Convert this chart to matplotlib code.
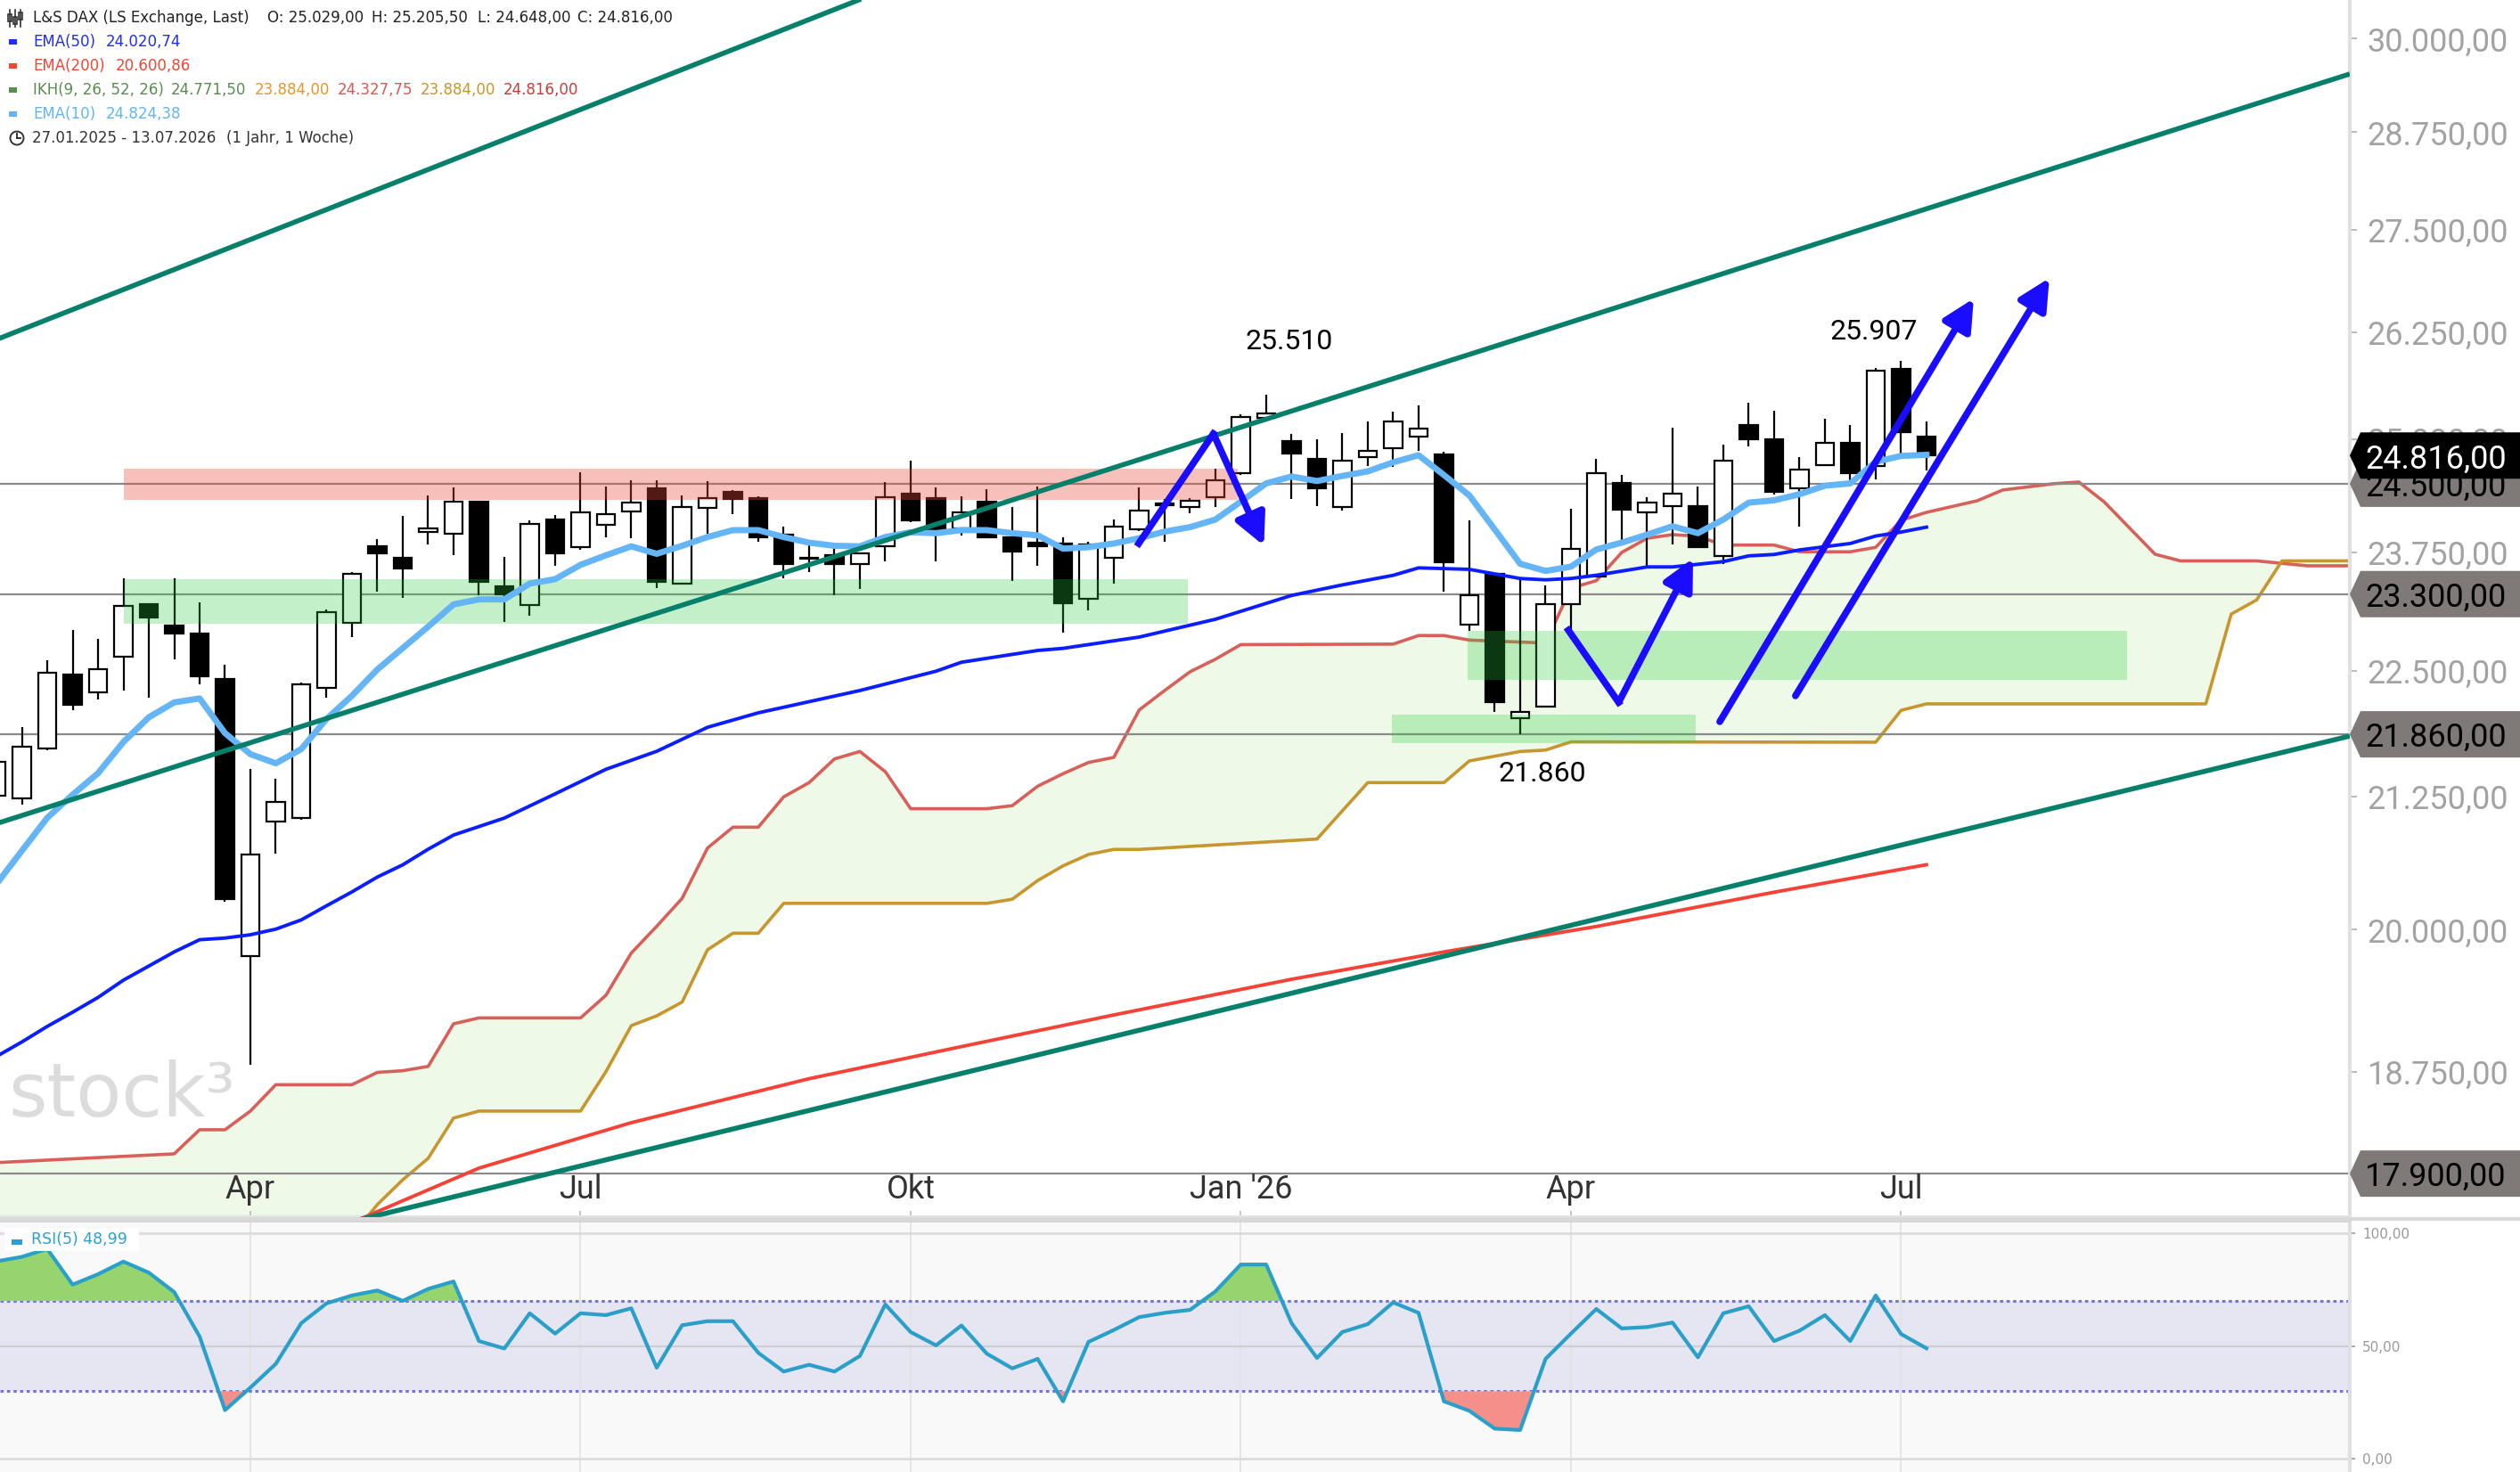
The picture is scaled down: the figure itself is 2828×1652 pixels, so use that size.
import matplotlib
matplotlib.use("Agg")
import matplotlib.pyplot as plt
import numpy as np
import pandas as pd
from matplotlib.lines import Line2D
from matplotlib.patches import Circle, Rectangle, Polygon
from matplotlib.ticker import FixedLocator, NullLocator, FuncFormatter
from matplotlib.transforms import blended_transform_factory, IdentityTransform

plt.rcParams["font.family"] = ["DejaVu Sans"]

W, H = 2828, 1652

# weekly candles 27.01.2025 - 13.07.2026
dates = pd.date_range("2025-01-27", "2026-07-13", freq="7D")

opens = [21260, 21233, 21720, 22464, 22282, 22650, 23194, 22970, 22890, 22422,
         19765, 21010, 21043, 22330, 22999, 23810, 23691, 23965, 23952, 24301,
         23383, 23184, 24106, 23801, 24050, 24196, 24452, 23411, 24235, 24409,
         24343, 23939, 23690, 23720, 23621, 23817, 24390, 24343, 24004, 24301,
         23907, 23852, 23843, 23250, 23689, 23997, 24262, 24238, 24353, 24618,
         25240, 24980, 24777, 24238, 24794, 24895, 25031, 24827, 22981, 23513,
         22022, 22140, 23194, 23490, 24504, 24183, 24255, 24255, 23705, 25160,
         24997, 24447, 24705, 24963, 24701, 25812, 25029]
highs = [21700, 21932, 22609, 22923, 22830, 23468, 23200, 23468, 23213, 22559,
         21515, 21424, 22380, 23142, 23535, 23895, 24141, 24372, 24459, 24311,
         23695, 24093, 24158, 24629, 24469, 24539, 24539, 24374, 24527, 24426,
         24363, 24025, 23843, 23795, 23750, 24514, 24761, 24459, 24363, 24439,
         24245, 24466, 23907, 23860, 24103, 24459, 24331, 24343, 24665, 25283,
         25510, 25057, 25003, 25071, 25209, 25315, 25385, 24860, 24093, 23520,
         23475, 23390, 24222, 24777, 24597, 24353, 25136, 24466, 24936, 25423,
         25329, 24794, 25235, 25160, 25820, 25907, 25205.5]
lows = [21200, 21172, 21700, 22102, 22210, 22300, 22228, 22620, 22364, 20258,
        18810, 20707, 21026, 22230, 22850, 23329, 23260, 23830, 23715, 23286,
        23004, 23073, 23602, 23778, 23912, 23897, 23364, 23400, 23946, 24160,
        23865, 23472, 23532, 23286, 23357, 23650, 24077, 23650, 23932, 23900,
        23443, 23602, 22896, 23128, 23411, 23978, 23865, 24173, 24238, 24600,
        25220, 24331, 24252, 24206, 24701, 24685, 24868, 23327, 22911, 22081,
        21860, 22126, 22833, 23480, 23875, 23602, 23836, 23790, 23624, 24922,
        24380, 24028, 24700, 24530, 24547, 24827, 24648]
closes = [21590, 21736, 22482, 22156, 22518, 23175, 23058, 22886, 22446, 20282,
          20698, 21202, 22361, 23110, 23512, 23737, 23573, 24004, 24301, 23427,
          23295, 24054, 23734, 24183, 24166, 24288, 23427, 24245, 24343, 24333,
          23912, 23618, 23676, 23618, 23740, 24353, 24096, 23987, 24183, 23912,
          23752, 23817, 23200, 23837, 24022, 24200, 24278, 24309, 24537, 25256,
          25294, 24837, 24447, 24754, 24871, 25205, 25122, 23640, 23286, 22187,
          22081, 23194, 23787, 24618, 24210, 24288, 24390, 23801, 24761, 24997,
          24412, 24654, 24963, 24618, 25794, 25078, 24816]

ema10 = [20420, 20732, 21045, 21268, 21477, 21784, 22030, 22180, 22220, 21872,
         21664, 21574, 21713, 22014, 22247, 22515, 22735, 22958, 23191, 23244,
         23244, 23412, 23459, 23612, 23715, 23812, 23731, 23818, 23913, 23988,
         23988, 23913, 23852, 23818, 23812, 23913, 23965, 23955, 23988, 23988,
         23955, 23932, 23787, 23803, 23843, 23900, 23972, 24021, 24104, 24301,
         24504, 24581, 24530, 24587, 24638, 24740, 24820, 24597, 24370, 23995,
         23624, 23547, 23593, 23778, 23852, 23939, 24030, 23955, 24104, 24290,
         24316, 24383, 24478, 24504, 24745, 24812, 24824]

ema50_x = [0, 1, 2, 3, 4, 5, 6, 7, 8, 9, 10, 11, 12, 13, 14, 15, 16, 17, 18, 20,
           22, 24, 26, 28, 30, 34, 37, 38, 41, 42, 45, 48, 51, 53, 55, 56, 58, 60,
           61, 62, 63, 65, 66, 68, 69, 70, 71, 73, 74, 75, 76]
ema50 = [18880, 19005, 19140, 19264, 19394, 19547, 19673, 19800, 19910, 19925,
         19955, 20006, 20090, 20220, 20348, 20486, 20600, 20747, 20881, 21043,
         21276, 21515, 21692, 21930, 22075, 22300, 22497, 22589, 22710, 22732,
         22849, 23035, 23286, 23398, 23500, 23580, 23564, 23466, 23452, 23466,
         23501, 23590, 23590, 23647, 23709, 23724, 23773, 23843, 23924, 23967,
         24021]

ema200_x = [13, 19, 25, 32, 38, 44, 51, 57, 63, 70, 76]
ema200 = [17420, 17945, 18320, 18690, 18965, 19240, 19555, 19800, 20030, 20345, 20601]

span_a_x = [0, 7, 8, 9, 10, 11, 14, 15, 16, 17, 18, 19, 23, 24, 25, 26, 27, 28, 29,
            30, 31, 32, 33, 34, 35, 36, 39, 40, 41, 42, 43, 44, 45, 46, 47, 48, 49,
            55, 56, 57, 58, 61, 62, 63, 64, 65, 66, 67, 68, 70, 71, 73, 74, 75, 76,
            78, 79, 81, 82, 83, 85, 86, 89, 91, 93]
span_a = [17990, 18062, 18261, 18261, 18417, 18639, 18639, 18744, 18758, 18795,
          19163, 19214, 19214, 19413, 19790, 20032, 20288, 20758, 20956, 20956,
          21247, 21385, 21617, 21690, 21492, 21133, 21133, 21162, 21350, 21472,
          21582, 21632, 22104, 22300, 22491, 22620, 22771, 22776, 22865, 22865,
          22818, 22787, 23364, 23443, 23746, 23900, 23939, 23922, 23826, 23826,
          23753, 23753, 23801, 24096, 24183, 24311, 24430, 24500, 24519, 24298,
          23727, 23655, 23655, 23602, 23602]

span_b_x = [0, 14, 15, 16, 17, 18, 19, 23, 24, 25, 26, 27, 28, 29, 30, 31, 39, 40,
            41, 42, 43, 44, 45, 52, 54, 57, 58, 60, 61, 62, 74, 75, 76, 87, 88,
            89, 90, 93]
span_b = [17000, 17400, 17650, 17850, 18025, 18358, 18417, 18417, 18750, 19147,
          19232, 19353, 19819, 19969, 19969, 20242, 20242, 20280, 20453, 20590,
          20697, 20745, 20745, 20843, 21385, 21385, 21597, 21690, 21704, 21785,
          21782, 22100, 22165, 22165, 23089, 23238, 23655, 23655]

rsi = [87.5, 89.5, 93.0, 77.2, 81.8, 87.4, 82.5, 73.9, 54.2, 21.6,
       31.6, 42.1, 60.1, 68.9, 72.4, 74.6, 70.0, 75.3, 78.6, 52.2,
       48.9, 64.5, 55.5, 64.5, 63.7, 66.7, 40.4, 59.2, 61.0, 61.0,
       47.0, 38.7, 41.7, 38.7, 45.6, 68.4, 56.2, 50.3, 59.1, 46.6,
       40.1, 44.3, 25.5, 51.8, 57.1, 62.8, 64.7, 66.0, 74.2, 86.1,
       86.1, 60.1, 44.7, 56.2, 59.7, 69.3, 64.7, 25.5, 21.3, 13.4,
       12.8, 44.3, 55.5, 66.4, 57.8, 58.4, 60.4, 45.0, 64.5, 67.6,
       52.2, 56.8, 63.7, 52.2, 72.4, 55.3, 48.99]

# drawn trendlines / channel (week index, price)
trend_top = ([0, 35], [26161, 30677])
trend_mid = ([0, 92.67], [20990, 29521])
trend_low = ([13, 92.67], [17465, 21843])

# marked zones: (x0, x1, price_lo, price_hi)
zone_red = (5.02, 48.88, 24318, 24672)
zones_green = [(5.03, 46.92, 22989, 23456),
               (57.94, 83.9, 22413, 22911),
               (54.94, 66.9, 21773, 22060)]

# blue drawn arrows
arrow_paths = [([44.98, 47.92, 49.91], [23843, 25064, 23820]),
               ([61.9, 63.88, 66.81], [22920, 22180, 23682]),
               ([67.86, 77.86], [21986, 26654]),
               ([70.84, 80.84], [22246, 26904])]

level_lines = [24500, 23300, 21860, 17900]
# drawn in this order, last one on top
price_tags = [(17900, "#7f7977", "black"), (21860, "#7f7977", "black"),
              (23300, "#7f7977", "black"), (24500, "#7f7977", "black"),
              (24816, "#000000", "white")]
y_ticks = [18750, 20000, 21250, 22500, 23750, 25000, 26250, 27500, 28750, 30000]

BLUE = "#1a0dff"
TEAL = "#06806a"


def de_fmt(v, nd=2):
    s = f"{v:,.{nd}f}"
    return s.replace(",", "X").replace(".", ",").replace("X", ".")


x = np.arange(len(dates))
o, hi, lo, c = map(np.asarray, (opens, highs, lows, closes))

# month markers for the quarter starts
names = {1: "Jan", 4: "Apr", 7: "Jul", 10: "Okt"}
month_pos, month_lbl = [], []
for i in range(1, len(dates)):
    m = dates[i].month
    if m != dates[i - 1].month and m in names:
        month_pos.append(i)
        month_lbl.append(f"Jan '{dates[i]:%y}" if m == 1 else names[m])

fig = plt.figure(figsize=(W / 100, H / 100), dpi=100)
ax = fig.add_axes([0, 1 - 1366 / H, 2637 / W, 1366 / H])
ax2 = fig.add_axes([0, 0, 2637 / W, 282 / H], sharex=ax)

ax.set_yscale("log")
ax.set_ylim(17549, 30531)
ax.set_xlim(0.14, 92.67)

# ichimoku cloud
ax.fill(np.r_[span_a_x, span_b_x[::-1]], np.r_[span_a, span_b[::-1]],
        color="#eef9e8", lw=0, zorder=1)
ax.plot(span_a_x, span_a, color="#d8605a", lw=2.6, zorder=2)
ax.plot(span_b_x, span_b, color="#c8962e", lw=2.6, zorder=2)

for lv in level_lines:
    ax.axhline(lv, color="#8a8a8a", lw=1.6, zorder=2)

# candles
up = c > o
body_lo = np.minimum(o, c)
body_hi = np.maximum(o, c)
ax.vlines(x, lo, hi, color="black", lw=1.6, zorder=3)
ax.bar(x[up], (body_hi - body_lo)[up], bottom=body_lo[up], width=0.72,
       facecolor="white", edgecolor="black", lw=1.6, zorder=4)
ax.bar(x[~up], (body_hi - body_lo)[~up], bottom=body_lo[~up], width=0.72,
       facecolor="black", edgecolor="black", lw=1.6, zorder=4)

# zones on top of candles
x0, x1, p0, p1 = zone_red
ax.fill_between([x0, x1], p0, p1, color="#e94b3c", alpha=0.35, lw=0, zorder=5)
for x0, x1, p0, p1 in zones_green:
    ax.fill_between([x0, x1], p0, p1, color="#2ecc40", alpha=0.28, lw=0, zorder=5)

# moving averages
ax.plot(ema200_x, ema200, color="#f44336", lw=2.8, zorder=6)
ax.plot(ema50_x, ema50, color="#0a1eff", lw=2.8, zorder=6)
ax.plot(x, ema10, color="#64b5f6", lw=5, zorder=6, solid_joinstyle="round")

for xs, ys in (trend_top, trend_mid, trend_low):
    ax.plot(xs, ys, color=TEAL, lw=4, zorder=6, solid_capstyle="butt")

for xs, ys in arrow_paths:
    if len(xs) > 2:
        ax.plot(xs[:-1], ys[:-1], color=BLUE, lw=5.5, zorder=7, solid_joinstyle="miter")
    ax.annotate("", xy=(xs[-1], ys[-1]), xytext=(xs[-2], ys[-2]),
                arrowprops=dict(arrowstyle="-|>,head_length=0.7,head_width=0.35",
                                color=BLUE, lw=5.5, mutation_scale=30,
                                shrinkA=0, shrinkB=0), zorder=7)

for label, xv, yv in (("25.510", 50.9, 26130), ("25.907", 73.93, 26247),
                      ("21.860", 60.88, 21466)):
    ax.text(xv, yv, label, fontsize=23, family="Roboto", color="black",
            ha="center", va="center", zorder=8)

ax.text(9 / 2637, 113 / 1366, "stock³", transform=ax.transAxes, fontsize=60,
        color="#dcdcdc", ha="left", va="baseline", zorder=0.5)

# axes styling (price)
for side in ("top", "left"):
    ax.spines[side].set_visible(False)
ax.spines["bottom"].set_color("#e4e4e4")
ax.spines["bottom"].set_linewidth(3)
ax.spines["right"].set_color("#e0e0e0")
ax.spines["right"].set_linewidth(3)
ax.yaxis.set_major_locator(FixedLocator(y_ticks))
ax.yaxis.set_minor_locator(NullLocator())
ax.yaxis.set_major_formatter(FuncFormatter(lambda v, p: de_fmt(v)))
ax.yaxis.tick_right()
ax.tick_params(axis="y", which="both", length=6, width=1.5, color="#bbbbbb",
               labelcolor="#a3a3a3", labelsize=26, pad=8, labelfontfamily="Roboto")
ax.set_xticks(month_pos)
ax.tick_params(axis="x", direction="in", length=5, width=1.2, color="#bbbbbb",
               labelbottom=False)

tr = blended_transform_factory(ax.transData, ax.transAxes)
for pos, lbl in zip(month_pos, month_lbl):
    ax.text(pos, 31 / 1366, lbl, transform=tr, fontsize=26, family="Roboto",
            color="#333333", ha="center", va="center", zorder=8)

# price tags on the right axis (arrow shaped boxes)
x_tip = ax.transAxes.transform((1, 0))[0]
for n, (lv, fc, tc) in enumerate(price_tags):
    yd = ax.transData.transform((1, lv))[1]
    verts = [(x_tip, yd), (x_tip + 12, yd + 26), (W + 5, yd + 26),
             (W + 5, yd - 26), (x_tip + 12, yd - 26)]
    fig.add_artist(Polygon(verts, closed=True, transform=IdentityTransform(),
                           fc=fc, ec="none", zorder=5 + 2 * n))
    fig.text((x_tip + 17) / W, yd / H, de_fmt(lv), fontsize=26, family="Roboto",
             color=tc, ha="left", va="center_baseline", zorder=6 + 2 * n)

# RSI panel
r = np.asarray(rsi)
ax2.set_facecolor("#f9f9f9")
ax2.set_ylim(-5.8, 105.5)
ax2.axhspan(30, 70, color="#e6e6f2", lw=0, zorder=0.5)
for pos in month_pos:
    ax2.axvline(pos, color="#e2e2e2", lw=1.2, zorder=0.6)
ax2.axhline(100, color="#dcdcdc", lw=2, zorder=1)
ax2.axhline(0, color="#dcdcdc", lw=2, zorder=1)
ax2.axhline(50, color="#cdcdd6", lw=1.6, zorder=1)
for lv in (30, 70):
    ax2.axhline(lv, color="#7676d2", lw=2.2, ls=(0, (1.2, 1.2)), zorder=2)
ax2.fill_between(x, r, 70, where=r >= 70, interpolate=True, color="#96d46e",
                 lw=0, zorder=2)
ax2.fill_between(x, r, 30, where=r <= 30, interpolate=True, color="#f48f8a",
                 lw=0, zorder=2)
ax2.plot(x, r, color="#2a9fc9", lw=3, zorder=3)

for side in ("left", "bottom"):
    ax2.spines[side].set_visible(False)
ax2.spines["top"].set_color("#d5d5d5")
ax2.spines["top"].set_linewidth(2)
ax2.spines["right"].set_color("#e0e0e0")
ax2.spines["right"].set_linewidth(3)
ax2.yaxis.tick_right()
ax2.set_yticks([0, 50, 100])
ax2.set_yticklabels(["0,00", "50,00", "100,00"])
ax2.tick_params(axis="y", length=4, width=1.2, color="#999999", labelcolor="#999999",
                labelsize=11, pad=6)
ax2.tick_params(axis="x", length=0, labelbottom=False)

ax2.add_patch(Rectangle((5 / 2637, 248 / 282), 151 / 2637, 26 / 282,
                        transform=ax2.transAxes, fc="white", ec="none", zorder=4))
ax2.add_patch(Rectangle((13 / 2637, 255 / 282), 12 / 2637, 6 / 282,
                        transform=ax2.transAxes, fc="#2a9fd6", ec="none", zorder=5))
ax2.text(35 / 2637, 261 / 282, "RSI(5) 48,99", transform=ax2.transAxes,
         color="#2a9fd6", fontsize=12.5, ha="left", va="center", zorder=5)

fig.add_artist(Line2D([0, 1], [1 - 1368 / H] * 2, transform=fig.transFigure,
                      color="#d9d9d9", lw=3))


# legend block (top-left)
def ftext(xp, yp, s, color, size=12):
    fig.text(xp / W, 1 - yp / H, s, color=color, fontsize=size, ha="left", va="center")


def fmark(yp, color):
    fig.add_artist(Rectangle((10 / W, 1 - (yp + 3) / H), 9 / W, 6 / H,
                             transform=fig.transFigure, fc=color, ec="none"))


rows = [20, 47, 74, 101, 128, 155]
# candle icon
for cx, b0, b1 in ((11, 16, 24), (17, 19, 27), (23, 14, 22)):
    fig.add_artist(Line2D([cx / W] * 2, [1 - 11 / H, 1 - 30 / H],
                          transform=fig.transFigure, color="#333333", lw=1.2))
    fig.add_artist(Rectangle(((cx - 2) / W, 1 - b1 / H), 4 / W, (b1 - b0) / H,
                             transform=fig.transFigure, fc="white", ec="#333333", lw=1.2))
ftext(37, rows[0], "L&S DAX (LS Exchange, Last)", "#222222")
ftext(300, rows[0], "O: " + de_fmt(opens[-1]), "#222222")
ftext(417, rows[0], "H: " + de_fmt(highs[-1]), "#222222")
ftext(536, rows[0], "L: " + de_fmt(lows[-1]), "#222222")
ftext(648, rows[0], "C: " + de_fmt(closes[-1]), "#222222")

fmark(rows[1], "#1f2cff")
ftext(37, rows[1], "EMA(50)", "#1f2cff")
ftext(119, rows[1], de_fmt(24020.74), "#1f2cff")
fmark(rows[2], "#f04632")
ftext(37, rows[2], "EMA(200)", "#f04632")
ftext(130, rows[2], de_fmt(20600.86), "#f04632")
fmark(rows[3], "#5a8c50")
ftext(37, rows[3], "IKH(9, 26, 52, 26)", "#5a8c50")
for xp, val, col in ((192, 24771.50, "#5a8c50"), (286, 23884.00, "#e6962a"),
                     (379, 24327.75, "#d75a55"), (472, 23884.00, "#c8962a"),
                     (565, 24816.00, "#c83c37")):
    ftext(xp, rows[3], de_fmt(val), col)
fmark(rows[4], "#64b4f5")
ftext(37, rows[4], "EMA(10)", "#64b4f5")
ftext(119, rows[4], de_fmt(24824.38), "#64b4f5")

fig.add_artist(Circle((0.19, (H - rows[5]) / 100), 0.075, transform=fig.dpi_scale_trans,
                      fc="none", ec="#333333", lw=1.4))
fig.add_artist(Line2D([0.19, 0.19], [(H - rows[5]) / 100, (H - rows[5]) / 100 + 0.05],
                      transform=fig.dpi_scale_trans, color="#333333", lw=1.4))
fig.add_artist(Line2D([0.19, 0.23], [(H - rows[5]) / 100] * 2,
                      transform=fig.dpi_scale_trans, color="#333333", lw=1.4))
ftext(36, rows[5], f"{dates[0]:%d.%m.%Y} - {dates[-1]:%d.%m.%Y}", "#333333")
ftext(254, rows[5], "(1 Jahr, 1 Woche)", "#333333")

fig.savefig("out.png", dpi=100)
